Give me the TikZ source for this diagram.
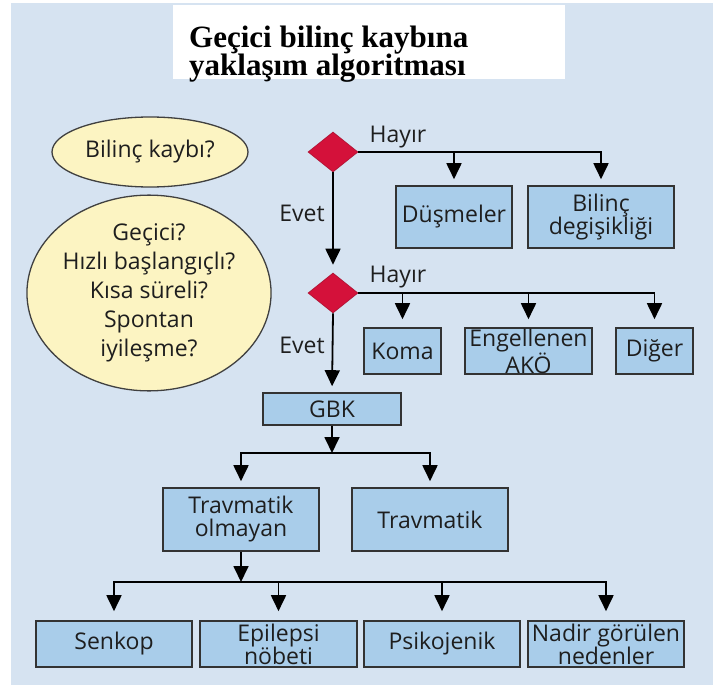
\documentclass[tikz,border=0pt]{standalone}
\usepackage{fontspec}
\setmainfont{Open Sans}
\newfontfamily\titlefont{Liberation Serif}
\usetikzlibrary{shapes.geometric,arrows.meta}
\definecolor{bg}{HTML}{D6E3F1}
\definecolor{boxfill}{HTML}{A9CDEA}
\definecolor{ellfill}{HTML}{FCF4C2}
\definecolor{dred}{HTML}{D4113A}
\definecolor{txt}{HTML}{1E1E1E}
\begin{document}
\begin{tikzpicture}[x=1pt,y=-1pt,
  every node/.style={text=txt},
  box/.style={draw=black!80, line width=1.6pt, fill=boxfill, align=center,
    inner sep=0pt, font=\fontsize{23}{23}\selectfont},
  ell/.style={ellipse, draw=black!75, line width=1.3pt, fill=ellfill, align=center,
    inner sep=0pt, font=\fontsize{23}{29}\selectfont},
  dia/.style={diamond, fill=dred, draw=dred!80!black, line width=0.6pt, inner sep=0pt,
    minimum width=50pt, minimum height=40pt},
  arr/.style={draw=black, line width=1.8pt, -{Triangle[width=15pt,length=16pt]}},
  lab/.style={font=\fontsize{23}{23}\selectfont}
]
\useasboundingbox (0,0) rectangle (713,685);
\fill[white] (0,0) rectangle (713,685);
\fill[bg] (11,3) rectangle (713,685);
\fill[white] (173,5) rectangle (565,79);
\node[anchor=base west, font=\titlefont\bfseries\fontsize{31}{32}\selectfont, text=black, inner sep=0pt] (t1) at (189,48) {Geçici bilinç kaybına};
\node[anchor=base west, font=\titlefont\bfseries\fontsize{31}{32}\selectfont, text=black, inner sep=0pt] (t2) at (189,76) {yaklaşım algoritması};

\node[ell, minimum width=196pt, minimum height=70pt] (e1) at (150,152) {Bilinç kaybı?};
\node[ell, minimum width=198pt, minimum height=193pt] (e2) at (149,293) {Geçici?\\Hızlı başlangıçlı?\\Kısa süreli?\\Spontan\\iyileşme?};

\node[dia] (d1) at (333,152) {};
\node[dia] (d2) at (333,293) {};

\node[box, minimum width=116pt, minimum height=62pt] (dus) at (454,217) {Düşmeler};
\node[box, minimum width=146pt, minimum height=62pt] (bil) at (601,217) {Bilinç\\degişikliği};
\node[box, minimum width=77pt, minimum height=46pt] (koma) at (402.5,351) {Koma};
\node[box, minimum width=127pt, minimum height=46pt] (eng) at (528.5,351) {Engellenen\\AKÖ};
\node[box, minimum width=77pt, minimum height=46pt] (dig) at (654.5,351) {Diğer};
\node[box, minimum width=138pt, minimum height=32pt] (gbk) at (332,409) {GBK};
\node[box, minimum width=156pt, minimum height=63pt] (tro) at (241,519.5) {Travmatik\\olmayan};
\node[box, minimum width=156pt, minimum height=63pt] (trv) at (430,519.5) {Travmatik};
\node[box, minimum width=156pt, minimum height=46pt] (sen) at (114,644) {Senkop};
\node[box, minimum width=157pt, minimum height=46pt] (epi) at (278.5,644) {Epilepsi\\nöbeti};
\node[box, minimum width=156pt, minimum height=46pt] (psi) at (442,644) {Psikojenik};
\node[box, minimum width=156pt, minimum height=46pt] (nad) at (606,644) {Nadir görülen\\nedenler};

\node[lab] (h1) at (398,137) {Hayır};
\node[lab] (h2) at (398,277) {Hayır};
\node[lab] (ev1) at (302,213) {Evet};
\node[lab] (ev2) at (302,345) {Evet};

% first decision
\draw[arr, shorten >=6pt] (d1.east) -| (bil.north);
\draw[arr, shorten >=6pt] (dus.north |- d1.east) -- (dus.north);
\draw[arr, shorten >=8pt] (d1.south) -- (d2.north);
% second decision
\draw[arr, shorten >=8pt] (d2.east) -| (dig.north);
\draw[arr, shorten >=8pt] (koma.north |- d2.east) -- (koma.north);
\draw[arr, shorten >=8pt] (eng.north |- d2.east) -- (eng.north);
\draw[arr, shorten >=6pt] (d2.south) -- (gbk.north);
% GBK split
\coordinate (j1) at (332,453);
\draw[arr] (gbk.south) -- (j1);
\draw[arr, shorten >=6pt] (j1) -| (tro.north);
\draw[arr, shorten >=6pt] (j1) -| (trv.north);
% non-traumatic split
\coordinate (j2) at (241,582);
\draw[arr] (tro.south) -- (j2);
\draw[arr, shorten >=9pt] (j2) -| (sen.north);
\draw[arr, shorten >=9pt] (j2) -| (nad.north);
\draw[arr, shorten >=9pt] (epi.north |- j2) -- (epi.north);
\draw[arr, shorten >=9pt] (psi.north |- j2) -- (psi.north);
\end{tikzpicture}
\end{document}
